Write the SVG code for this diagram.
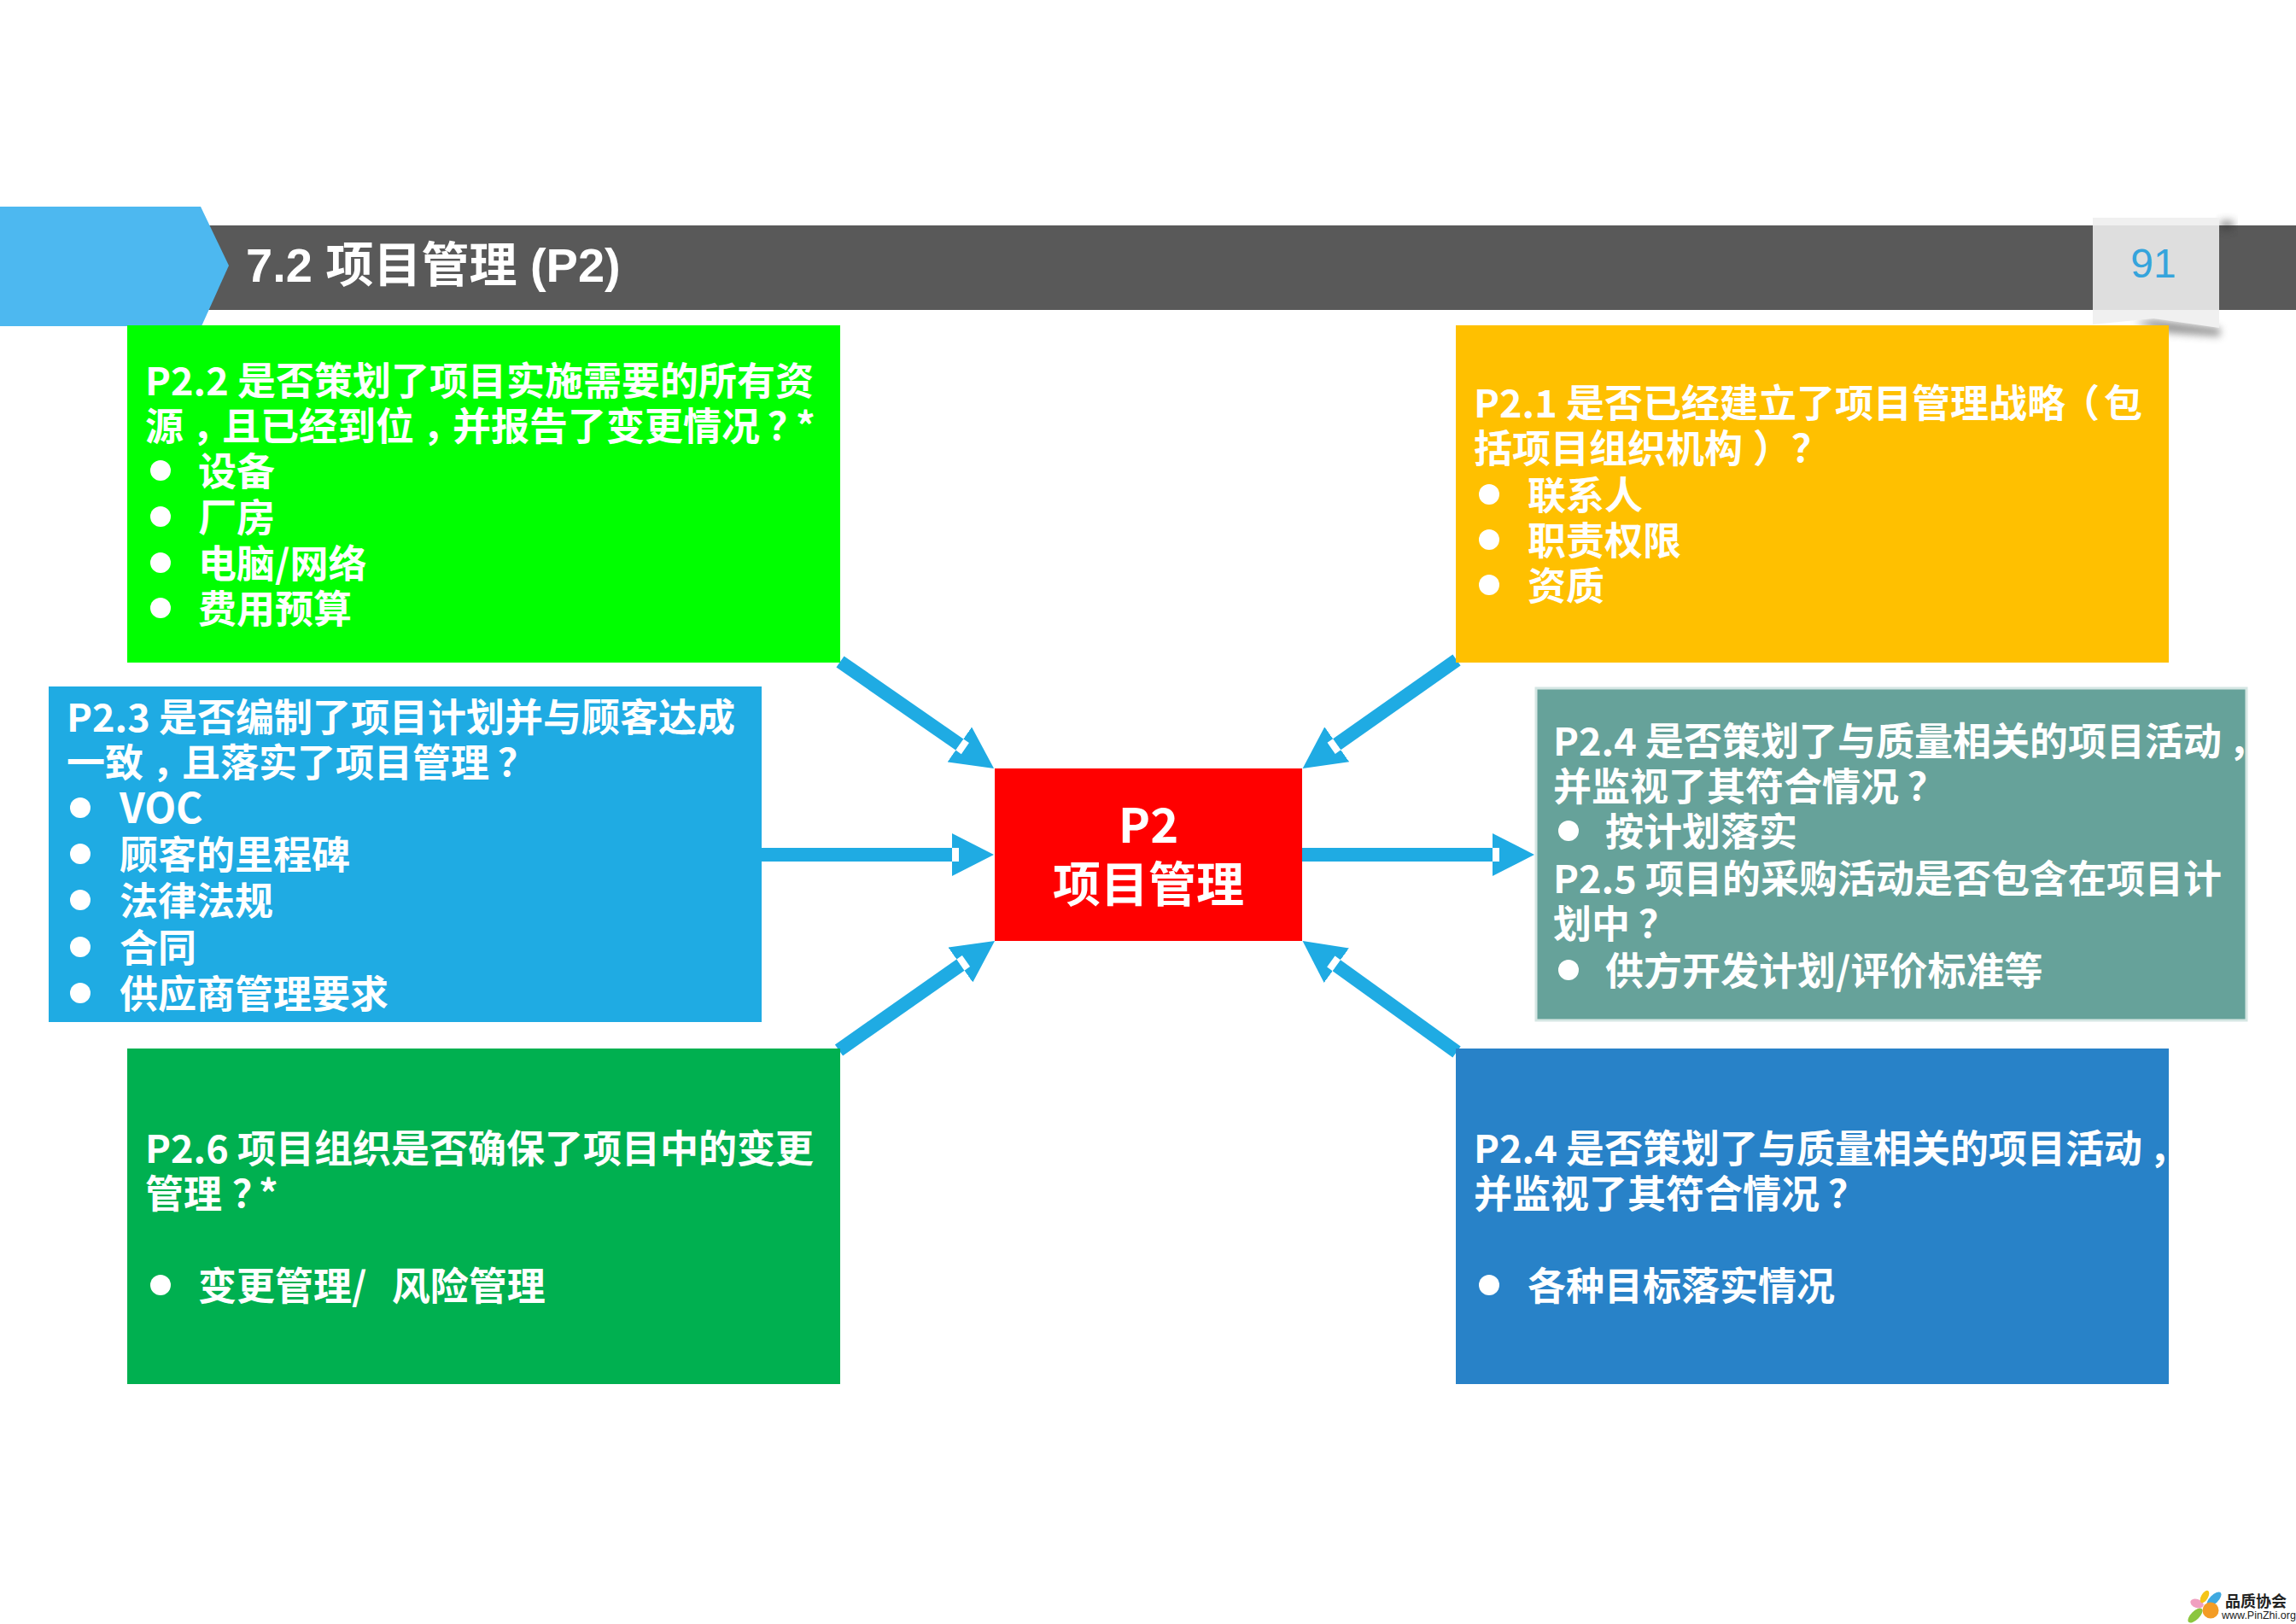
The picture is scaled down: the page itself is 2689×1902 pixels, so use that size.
<svg xmlns="http://www.w3.org/2000/svg" width="2689" height="1902" viewBox="0 0 2689 1902">
<style>
text{font-family:"Noto Sans CJK SC","Noto Sans",sans-serif;font-weight:700;fill:#fff}
.t{font-size:45px;white-space:pre}
.c{font-size:56px;text-anchor:middle}
.title{font-family:"Liberation Sans","Noto Sans CJK SC",sans-serif;font-size:56px}
.num{font-family:"Liberation Sans",sans-serif;font-weight:400;font-size:48px;fill:#35a4dc;text-anchor:middle}
.b{fill:#fff}
.conn{stroke:#1fabe3;stroke-width:16;fill:none;marker-end:url(#head)}
</style>
<defs>
<marker id="head" markerUnits="userSpaceOnUse" markerWidth="49" markerHeight="50" refX="0" refY="25" orient="auto">
<path d="M0 0L49 25L0 50Z" fill="#1fabe3"/><rect x="0" y="17" width="8" height="16" fill="#fff"/>
</marker>
<filter id="blur" x="-30%" y="-100%" width="160%" height="300%"><feGaussianBlur stdDeviation="5"/></filter>
</defs>
<rect width="2689" height="1902" fill="#fff"/>
<g id="header">
<rect x="240" y="264" width="2449" height="99" fill="#595959"/>
<polygon points="0,242 235,242 268,311 236,382 0,382" fill="#4db8f0"/>
<text class="title" x="288" y="330">7.2 项目管理 (P2)</text>
</g>
<g id="page-tab">
<polygon points="2600,258 2616,258 2616,270 2600,270" fill="#333" opacity=".45" filter="url(#blur)"/>
<polygon points="2500,378 2522,374 2600,384 2600,394 2540,390" fill="#555" opacity=".6" filter="url(#blur)"/>
<polygon points="2451,255 2599,255 2599,384 2522,373 2451,380" fill="#f0f0f0"/>
<rect x="2451" y="264" width="148" height="99" fill="#dedede"/>
<text class="num" x="2522" y="325">91</text>
</g>
<g id="connectors">
<line class="conn" x1="984" y1="775" x2="1123.8" y2="872"/>
<line class="conn" x1="1706" y1="773" x2="1565.7" y2="871.8"/>
<line class="conn" x1="892" y1="1001" x2="1115" y2="1001"/>
<line class="conn" x1="1525" y1="1001" x2="1748" y2="1001"/>
<line class="conn" x1="982.5" y1="1230" x2="1124.9" y2="1130.1"/>
<line class="conn" x1="1706" y1="1232" x2="1565.3" y2="1130.7"/>
</g>
<g id="p2-center">
<rect x="1165" y="900" width="360" height="202" fill="#f00"/>
<text class="c" x="1345" y="987">P2</text>
<text class="c" x="1345" y="1056">项目管理</text>
</g>
<g id="p2-2">
<rect x="149" y="381" width="835" height="395" fill="#0f0"/>
<text class="t" x="170" y="463">P2.2 是否策划了项目实施需要的所有资</text>
<text class="t" x="170" y="516">源<tspan dx="10">，</tspan><tspan dx="-10">且已经到位</tspan><tspan dx="10">，</tspan><tspan dx="-10">并报告了变更情况</tspan><tspan dx="9">？</tspan><tspan dx="-12">*</tspan></text>
<circle class="b" cx="188" cy="551" r="12"/><text class="t" x="232" y="569">设备</text>
<circle class="b" cx="188" cy="605" r="12"/><text class="t" x="232" y="623">厂房</text>
<circle class="b" cx="188" cy="659" r="12"/><text class="t" x="232" y="677">电脑/网络</text>
<circle class="b" cx="188" cy="712" r="12"/><text class="t" x="232" y="730">费用预算</text>
</g>
<g id="p2-1">
<rect x="1705" y="381" width="835" height="395" fill="#ffc000"/>
<text class="t" x="1726" y="489">P2.1 是否已经建立了项目管理战略<tspan dx="-5">（</tspan><tspan dx="5">包</tspan></text>
<text class="t" x="1726" y="542">括项目组织机构<tspan dx="12">）</tspan><tspan>？</tspan></text>
<circle class="b" cx="1744" cy="579" r="12"/><text class="t" x="1789" y="597">联系人</text>
<circle class="b" cx="1744" cy="632" r="12"/><text class="t" x="1789" y="650">职责权限</text>
<circle class="b" cx="1744" cy="685" r="12"/><text class="t" x="1789" y="703">资质</text>
</g>
<g id="p2-3">
<rect x="57" y="804" width="835" height="393" fill="#1fabe3"/>
<text class="t" x="78" y="857">P2.3 是否编制了项目计划并与顾客达成</text>
<text class="t" x="78" y="910">一致<tspan dx="10">，</tspan><tspan dx="-10">且落实了项目管理</tspan><tspan dx="10">？</tspan></text>
<circle class="b" cx="94" cy="946" r="12"/><text class="t" x="140" y="964" style="font-size:48px">VOC</text>
<circle class="b" cx="94" cy="1000" r="12"/><text class="t" x="140" y="1018">顾客的里程碑</text>
<circle class="b" cx="94" cy="1054" r="12"/><text class="t" x="140" y="1072">法律法规</text>
<circle class="b" cx="94" cy="1109" r="12"/><text class="t" x="140" y="1127">合同</text>
<circle class="b" cx="94" cy="1163" r="12"/><text class="t" x="140" y="1181">供应商管理要求</text>
</g>
<g id="p2-4-5">
<rect x="1799" y="806" width="832" height="389" fill="#66a29a" stroke="#d5e6e3" stroke-width="3"/>
<text class="t" x="1819" y="885">P2.4 是否策划了与质量相关的项目活动<tspan dx="8">，</tspan></text>
<text class="t" x="1819" y="938">并监视了其符合情况<tspan dx="10">？</tspan></text>
<circle class="b" cx="1837" cy="973" r="12"/><text class="t" x="1880" y="991">按计划落实</text>
<text class="t" x="1819" y="1046">P2.5 项目的采购活动是否包含在项目计</text>
<text class="t" x="1819" y="1099">划中<tspan dx="10">？</tspan></text>
<circle class="b" cx="1837" cy="1136" r="12"/><text class="t" x="1880" y="1154">供方开发计划/评价标准等</text>
</g>
<g id="p2-6">
<rect x="149" y="1228" width="835" height="393" fill="#00b050"/>
<text class="t" x="170" y="1362">P2.6 项目组织是否确保了项目中的变更</text>
<text class="t" x="170" y="1415">管理<tspan dx="12">？</tspan><tspan dx="-14">*</tspan></text>
<circle class="b" cx="188" cy="1505" r="12"/><text class="t" x="232" y="1523">变更管理/  <tspan dx="9">风险管理</tspan></text>
</g>
<g id="p2-4b">
<rect x="1705" y="1228" width="835" height="393" fill="#2882c8"/>
<text class="t" x="1726" y="1362">P2.4 是否策划了与质量相关的项目活动<tspan dx="8">，</tspan></text>
<text class="t" x="1726" y="1415">并监视了其符合情况<tspan dx="10">？</tspan></text>
<circle class="b" cx="1744" cy="1505" r="12"/><text class="t" x="1789" y="1523">各种目标落实情况</text>
</g>
<g id="logo">
<ellipse cx="2573" cy="1878" rx="8" ry="5" fill="#f0a0c0" transform="rotate(20 2573 1878)"/>
<ellipse cx="2582" cy="1870" rx="4" ry="8" fill="#f5c518" transform="rotate(30 2582 1870)"/>
<ellipse cx="2593" cy="1873" rx="5" ry="11" fill="#3fa9e0" transform="rotate(45 2593 1873)"/>
<ellipse cx="2571" cy="1892" rx="5" ry="11" fill="#8cc63f" transform="rotate(45 2571 1892)"/>
<circle cx="2589" cy="1886" r="9.5" fill="#f39c25"/>
<text x="2606" y="1882" style="font-family:'Noto Sans CJK SC',serif;font-size:18px;fill:#222">品质协会</text>
<text x="2602" y="1896" style="font-family:'Liberation Sans',sans-serif;font-weight:400;font-size:12.5px;fill:#222">www.PinZhi.org</text>
</g>
</svg>
